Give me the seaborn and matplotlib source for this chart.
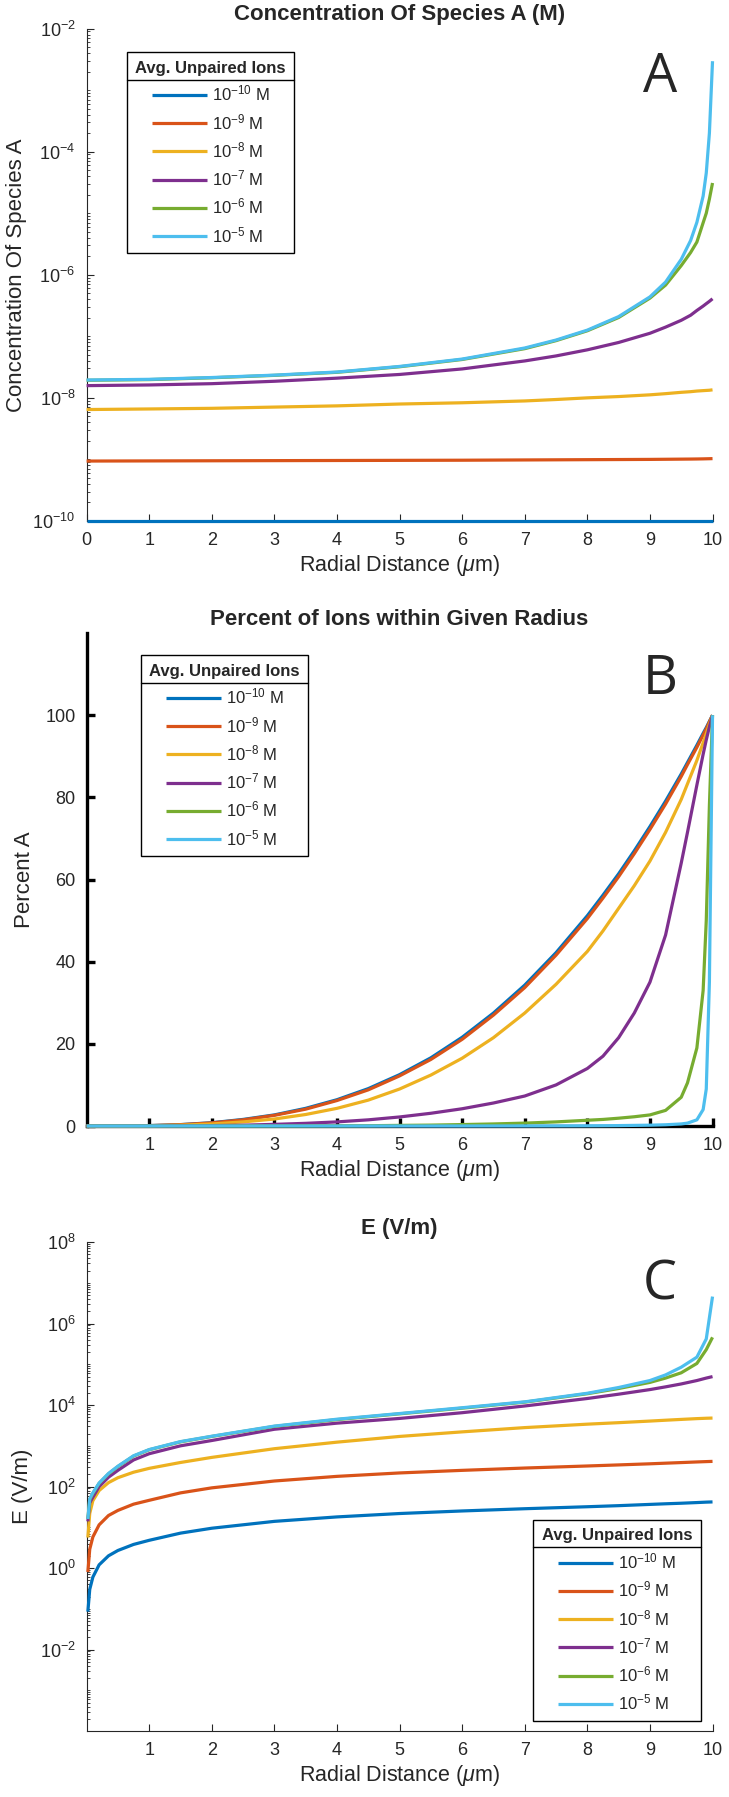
import matplotlib
matplotlib.use('Agg')
import numpy as np
import pandas as pd
import matplotlib.pyplot as plt
import seaborn as sns
from matplotlib.lines import Line2D
from matplotlib.ticker import LogLocator, NullFormatter

sns.set_style('ticks')
plt.rcParams['font.family'] = ['Liberation Sans', 'DejaVu Sans']
plt.rcParams['mathtext.fontset'] = 'custom'
plt.rcParams['mathtext.rm'] = 'Liberation Sans'
plt.rcParams['mathtext.it'] = 'Liberation Sans:italic'
plt.rcParams['mathtext.bf'] = 'Liberation Sans:bold'

# series labels and MATLAB default colours
levels = ['$10^{-10}$ M', '$10^{-9}$ M', '$10^{-8}$ M', '$10^{-7}$ M', '$10^{-6}$ M', '$10^{-5}$ M']
colors = ['#0072BD', '#D95319', '#EDB120', '#7E2F8E', '#77AC30', '#4DBEEE']

# ---- panel A: concentration of species A (M) ----
xA = [0, 1, 2, 3, 4, 5, 6, 7, 7.5, 8, 8.5, 9, 9.25, 9.5, 9.65, 9.75, 9.85, 9.9, 9.95, 10]
concA_10 = [1.0e-10] * 20
concA_9 = [9.40e-10, 9.45e-10, 9.50e-10, 9.55e-10, 9.60e-10, 9.65e-10, 9.70e-10, 9.80e-10, 9.85e-10,
           9.90e-10, 9.95e-10, 1.00e-9, 1.005e-9, 1.01e-9, 1.013e-9, 1.016e-9, 1.02e-9, 1.023e-9,
           1.026e-9, 1.03e-9]
concA_8 = [6.46e-9, 6.6e-9, 6.76e-9, 7.08e-9, 7.41e-9, 7.94e-9, 8.32e-9, 8.91e-9, 9.4e-9, 1.0e-8,
           1.05e-8, 1.12e-8, 1.17e-8, 1.23e-8, 1.26e-8, 1.29e-8, 1.31e-8, 1.32e-8, 1.33e-8, 1.35e-8]
concA_7 = [1.58e-8, 1.62e-8, 1.70e-8, 1.86e-8, 2.09e-8, 2.40e-8, 2.95e-8, 3.98e-8, 4.8e-8, 6.03e-8,
           7.94e-8, 1.12e-7, 1.41e-7, 1.82e-7, 2.2e-7, 2.63e-7, 3.1e-7, 3.39e-7, 3.7e-7, 4.07e-7]
concA_6 = [1.93e-8, 1.98e-8, 2.12e-8, 2.32e-8, 2.60e-8, 3.2e-8, 4.2e-8, 6.3e-8, 8.5e-8, 1.23e-7,
           2.02e-7, 4.17e-7, 6.8e-7, 1.41e-6, 2.3e-6, 3.4e-6, 7.0e-6, 1.0e-5, 1.7e-5, 3.1e-5]
concA_5 = [1.95e-8, 2.0e-8, 2.14e-8, 2.34e-8, 2.63e-8, 3.24e-8, 4.27e-8, 6.46e-8, 8.7e-8, 1.26e-7,
           2.09e-7, 4.37e-7, 7.6e-7, 1.78e-6, 3.6e-6, 7.1e-6, 1.9e-5, 4.5e-5, 2.0e-4, 2.95e-3]

# ---- panel B: percent of ions within given radius ----
xB = [0, 0.5, 1, 1.5, 2, 2.5, 3, 3.5, 4, 4.5, 5, 5.5, 6, 6.5, 7, 7.5, 8, 8.25, 8.5, 8.75, 9,
      9.25, 9.5, 9.6, 9.75, 9.85, 9.9, 9.95, 10]
pctB_10 = [0, 0.01, 0.1, 0.34, 0.8, 1.6, 2.7, 4.3, 6.4, 9.1, 12.5, 16.6, 21.6, 27.5, 34.3, 42.2,
           51.2, 56.2, 61.4, 67.0, 72.9, 79.1, 85.7, 88.5, 92.7, 95.6, 97.0, 98.5, 100]
pctB_9 = [0, 0.01, 0.09, 0.32, 0.76, 1.5, 2.6, 4.1, 6.2, 8.8, 12.2, 16.2, 21.1, 27.0, 33.7, 41.6,
          50.5, 55.5, 60.7, 66.3, 72.2, 78.4, 85.1, 88.0, 92.2, 95.2, 96.7, 98.4, 100]
pctB_8 = [0, 0, 0.06, 0.2, 0.5, 1.0, 1.7, 2.8, 4.3, 6.3, 9.0, 12.4, 16.5, 21.5, 27.5, 34.5,
          42.5, 47.5, 53.0, 58.5, 64.5, 71.5, 79.5, 83.3, 89.0, 93.3, 95.5, 97.8, 100]
pctB_7 = [0, 0, 0.01, 0.05, 0.1, 0.2, 0.4, 0.65, 1.0, 1.5, 2.2, 3.1, 4.2, 5.6, 7.3, 10.0,
          14.0, 17.0, 21.5, 27.5, 35.0, 46.5, 64.0, 71.5, 83.0, 90.5, 94.0, 97.2, 100]
pctB_6 = [0, 0, 0, 0, 0, 0, 0.02, 0.03, 0.05, 0.07, 0.15, 0.22, 0.35, 0.5, 0.7, 1.0,
          1.4, 1.6, 1.9, 2.25, 2.7, 3.8, 7.0, 10.5, 19.0, 33.0, 50.0, 78.0, 100]
pctB_5 = [0, 0, 0, 0, 0, 0, 0, 0, 0, 0, 0, 0, 0, 0.01, 0.02, 0.03,
          0.05, 0.07, 0.1, 0.15, 0.2, 0.3, 0.5, 0.7, 1.5, 4.0, 9.0, 35.0, 100]

# ---- panel C: E (V/m) ----
xC = [0.02, 0.05, 0.1, 0.2, 0.35, 0.5, 0.75, 1, 1.5, 2, 3, 4, 5, 6, 7, 8, 8.5, 9,
      9.25, 9.5, 9.75, 9.9, 10]
eC_10 = [0.085, 0.3, 0.6, 1.2, 2.0, 2.7, 3.8, 4.8, 7.2, 9.5, 14.0, 18.0, 21.8, 25.2, 28.6, 32.0,
         34.0, 36.5, 37.8, 39.0, 40.5, 41.5, 42.0]
eC_9 = [0.8, 2.9, 5.8, 11.5, 19.5, 26, 37, 46, 70, 93, 137, 178, 216, 250, 285, 320,
        340, 362, 375, 388, 402, 410, 415]
eC_8 = [5.6, 22, 45, 80, 125, 165, 225, 280, 390, 520, 850, 1230, 1700, 2200, 2800, 3400,
        3700, 4050, 4250, 4450, 4650, 4750, 4800]
eC_7 = [14, 40, 55, 100, 170, 250, 450, 640, 1000, 1350, 2550, 3600, 4700, 6500, 9500, 14500,
        18500, 24000, 28000, 33000, 40000, 46000, 50000]
eC_6 = [16, 48, 68, 120, 205, 310, 560, 800, 1250, 1700, 3000, 4400, 6100, 8400, 11800, 19000,
        25500, 36000, 46000, 62000, 105000, 230000, 460000]
eC_5 = [16, 50, 70, 122, 210, 316, 570, 810, 1270, 1720, 3050, 4500, 6200, 8600, 12000, 19500,
        27000, 40000, 55000, 85000, 150000, 420000, 4600000]

xticks_A = [0, 1, 2, 3, 4, 5, 6, 7, 8, 9, 10]
xticks_BC = [1, 2, 3, 4, 5, 6, 7, 8, 9, 10]
yticks_A = [1e-10, 1e-8, 1e-6, 1e-4, 1e-2]
ylabels_A = ['$10^{-10}$', '$10^{-8}$', '$10^{-6}$', '$10^{-4}$', '$10^{-2}$']
yticks_B = [0, 20, 40, 60, 80, 100]
yticks_C = [1e-2, 1e0, 1e2, 1e4, 1e6, 1e8]
ylabels_C = ['$10^{-2}$', '$10^{0}$', '$10^{2}$', '$10^{4}$', '$10^{6}$', '$10^{8}$']


def long_frame(x, series):
    parts = []
    for lab, vals in zip(levels, series):
        parts.append(pd.DataFrame({'x': x, 'y': vals, 'level': lab}))
    return pd.concat(parts, ignore_index=True)


dfA = long_frame(xA, [concA_10, concA_9, concA_8, concA_7, concA_6, concA_5])
dfB = long_frame(xB, [pctB_10, pctB_9, pctB_8, pctB_7, pctB_6, pctB_5])
dfC = long_frame(xC, [eC_10, eC_9, eC_8, eC_7, eC_6, eC_5])

gray = '#262626'
fig = plt.figure(figsize=(7.29, 17.97), dpi=100)
axA = fig.add_axes([0.1188, 0.7101, 0.8586, 0.2740])
axB = fig.add_axes([0.1188, 0.3734, 0.8586, 0.2743])
axC = fig.add_axes([0.1188, 0.0367, 0.8586, 0.2721])

xlab = r'Radial Distance ($\mu$m)'
legends = []


def draw(ax, df, log):
    sns.lineplot(data=df, x='x', y='y', hue='level', hue_order=levels, palette=colors,
                 estimator=None, sort=True, lw=2.3, legend=False, ax=ax)
    for ln in ax.get_lines():
        ln.set_clip_on(False)
        ln.set_zorder(5)
        ln.set_solid_capstyle('butt')
        ln.set_solid_joinstyle('round')
    if log:
        ax.set_yscale('log')
    ax.set_xlim(0, 10)
    ax.tick_params(direction='in', labelsize=13, colors=gray, length=5, width=0.8, pad=8)
    ax.tick_params(which='minor', direction='in', length=2.5, width=0.6, colors=gray)
    ax.set_xlabel(xlab, fontsize=15.5, color=gray, labelpad=3)
    for s in ['top', 'right']:
        ax.spines[s].set_visible(False)
    for s in ['left', 'bottom']:
        ax.spines[s].set_color(gray)
        ax.spines[s].set_linewidth(0.8)


def add_legend(ax, loc, anchor):
    leg = ax.legend(ax.get_lines()[:6], levels, loc=loc, bbox_to_anchor=anchor, borderaxespad=0,
                    title='Avg. Unpaired Ions', title_fontproperties={'weight': 'bold', 'size': 12},
                    fontsize=12, frameon=True, fancybox=False, edgecolor='black', framealpha=1,
                    handlelength=3.3, handletextpad=0.3, labelspacing=0.5, borderpad=0.5)
    leg.get_frame().set_linewidth(1.0)
    leg.set_zorder(10)
    for t in leg.get_texts():
        t.set_color(gray)
    legends.append(leg)


# panel A
draw(axA, dfA, True)
axA.set_ylim(1e-10, 1e-2)
axA.set_xticks(xticks_A)
axA.set_yticks(yticks_A, ylabels_A)
axA.yaxis.set_minor_locator(LogLocator(base=10, subs=np.arange(1, 10), numticks=100))
axA.yaxis.set_minor_formatter(NullFormatter())
axA.set_ylabel('Concentration Of Species A', fontsize=16, color=gray)
axA.yaxis.set_label_coords(-0.096, 0.5)
axA.set_title('Concentration Of Species A (M)', fontsize=16, fontweight='bold', pad=6)
add_legend(axA, 'upper left', (0.0645, 0.952))
axA.text(0.916, 0.871, 'A', transform=axA.transAxes, fontsize=39, ha='center', va='baseline',
         family=['Open Sans', 'DejaVu Sans'])

# panel B
draw(axB, dfB, False)
axB.set_ylim(0, 120)
axB.set_xticks(xticks_BC)
axB.set_yticks(yticks_B)
for s in ['left', 'bottom']:
    axB.spines[s].set_color('black')
    axB.spines[s].set_linewidth(2.4)
axB.tick_params(width=2.4, length=6, color='black')
axB.set_ylabel('Percent A', fontsize=16, color=gray)
axB.yaxis.set_label_coords(-0.083, 0.5)
axB.set_title('Percent of Ions within Given Radius', fontsize=16, fontweight='bold', pad=6)
add_legend(axB, 'upper left', (0.087, 0.955))
axB.text(0.916, 0.876, 'B', transform=axB.transAxes, fontsize=39, ha='center', va='baseline',
         family=['Open Sans', 'DejaVu Sans'])

# panel C
draw(axC, dfC, True)
axC.set_ylim(1e-4, 1e8)
axC.set_xticks(xticks_BC)
axC.set_yticks(yticks_C, ylabels_C)
axC.yaxis.set_minor_locator(LogLocator(base=10, subs=np.arange(1, 10), numticks=100))
axC.yaxis.set_minor_formatter(NullFormatter())
axC.set_ylabel('E (V/m)', fontsize=16, color=gray)
axC.yaxis.set_label_coords(-0.085, 0.5)
axC.set_title('E (V/m)', fontsize=16, fontweight='bold', pad=6)
add_legend(axC, 'lower right', (0.981, 0.0204))
axC.text(0.916, 0.883, 'C', transform=axC.transAxes, fontsize=39, ha='center', va='baseline',
         family=['Open Sans', 'DejaVu Sans'])

# separator line under each legend title, as in MATLAB legends
fig.canvas.draw()
rend = fig.canvas.get_renderer()
inv = fig.transFigure.inverted()
for leg in legends:
    fb = leg.get_frame().get_window_extent(rend)
    tb = leg.get_title().get_window_extent(rend)
    yy = tb.y0 - 4
    (x0, y0), (x1, _) = inv.transform([(fb.x0, yy), (fb.x1, yy)])
    fig.add_artist(Line2D([x0, x1], [y0, y0], color='black', lw=1.0, zorder=20))

fig.savefig('out.png', dpi=100)
